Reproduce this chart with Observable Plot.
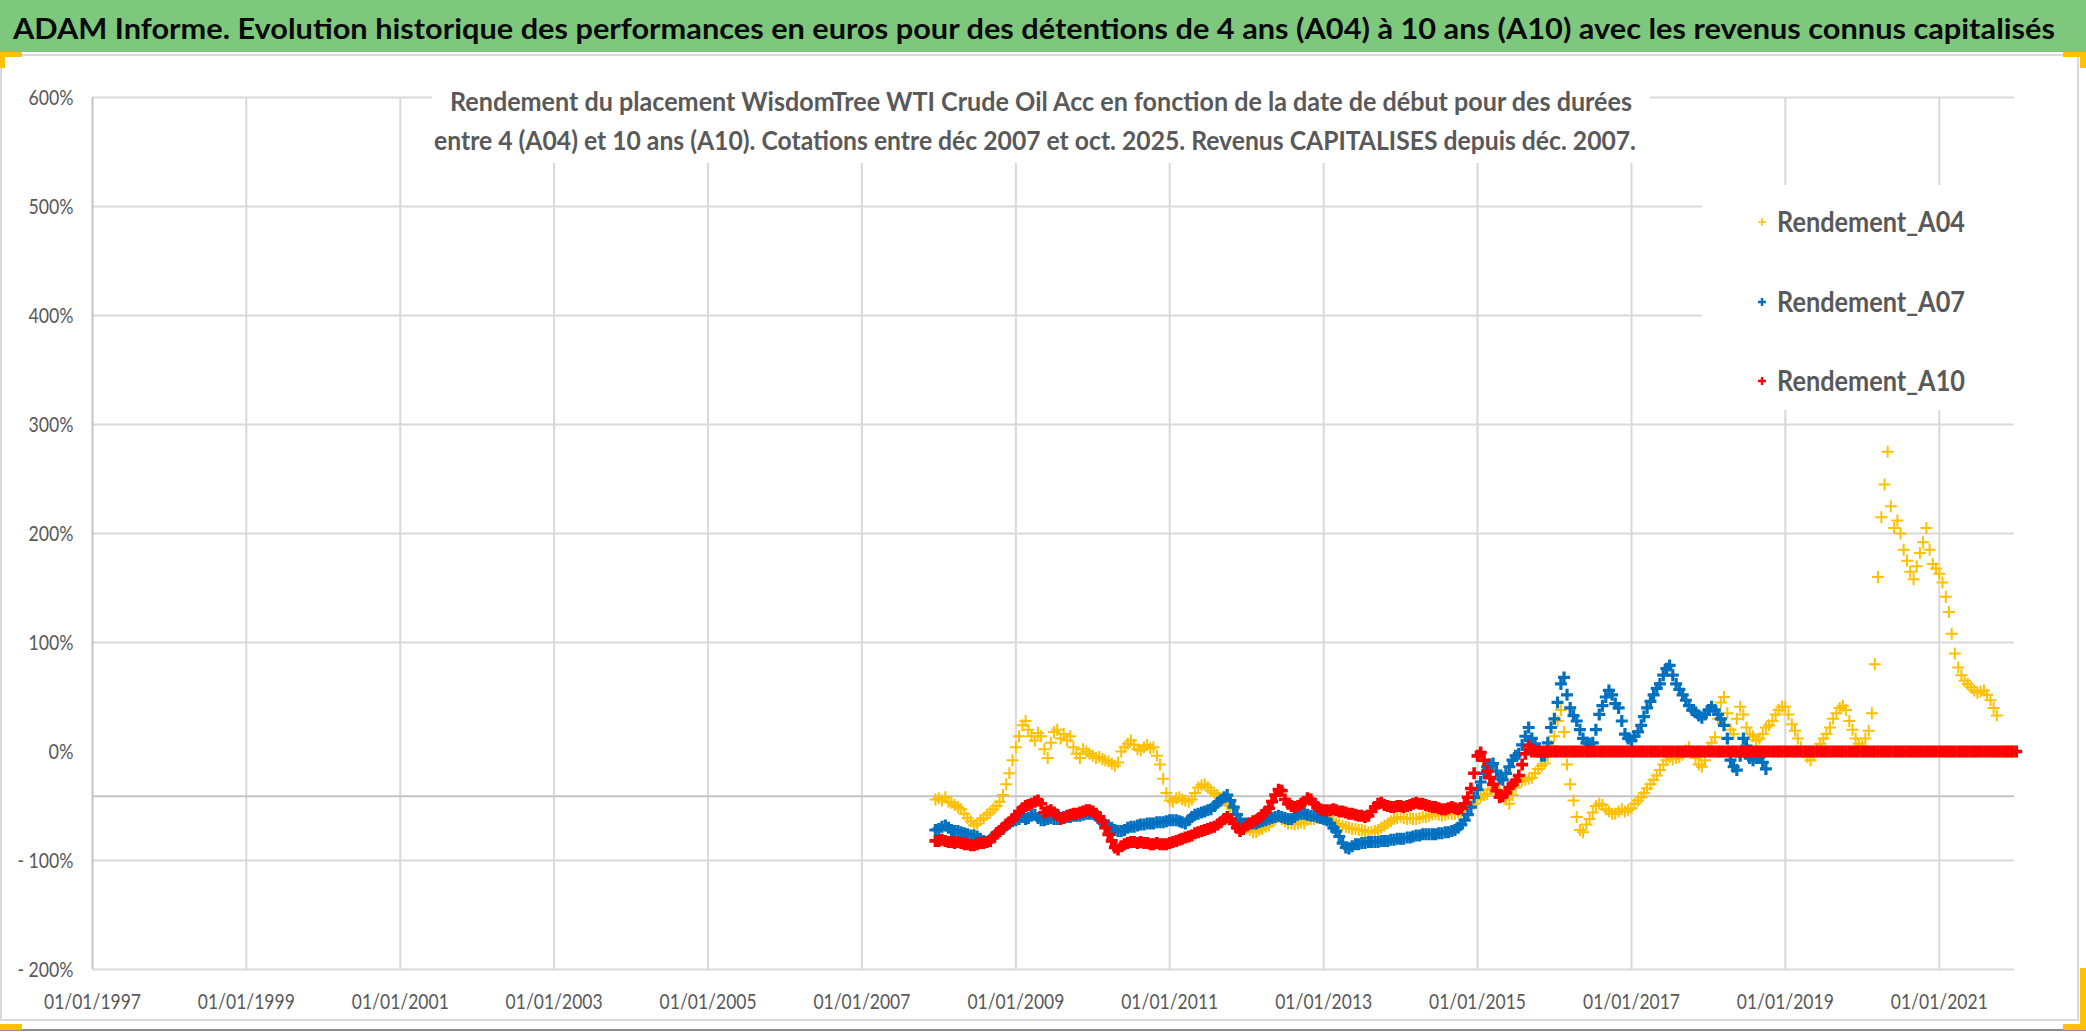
<!DOCTYPE html>
<html>
<head>
<meta charset="utf-8">
<script src="https://cdn.jsdelivr.net/npm/d3@7"></script>
<script src="https://cdn.jsdelivr.net/npm/@observablehq/plot@0.6"></script>
<style>
  html, body { margin: 0; padding: 0; background: #ffffff; }
  body { width: 2086px; height: 1032px; position: relative; overflow: hidden; font-family: Lato, "Open Sans", sans-serif; }
  #chart { position: absolute; left: 0; top: 0; }
  #overlay { position: absolute; left: 0; top: 0; pointer-events: none; }
</style>
</head>
<body>
<div id="chart"></div>
<svg id="overlay" width="2086" height="1032"></svg>
<script>
// ---------- text ----------
const titleText = "ADAM Informe. Evolution historique des performances en euros pour des détentions de 4 ans (A04) à 10 ans (A10) avec les revenus connus capitalisés";
const subtitleLines = [
  "Rendement du placement WisdomTree WTI Crude Oil Acc en fonction de la date de début pour des durées",
  "entre 4 (A04) et 10 ans (A10). Cotations entre déc 2007 et oct. 2025. Revenus CAPITALISES depuis déc. 2007."
];
const seriesNames = ["Rendement_A04", "Rendement_A07", "Rendement_A10"];
const seriesColors = ["#FFC000", "#0070C0", "#FF0000"];

// ---------- axes ----------
const yTicks = [-200, -100, 0, 100, 200, 300, 400, 500, 600];
const yGrid = [-200, -100, 100, 200, 300, 400, 500, 600];
const axisCross = -41;
const xTickYears = [1997, 1999, 2001, 2003, 2005, 2007, 2009, 2011, 2013, 2015, 2017, 2019, 2021];

// ---------- data: returns in %, one value per half month from 16/12/2007 ----------
const a04 = [
  -44,
  // 2008
  -43,-45,-42,-46,-47,-49,-51,-53,-57,-61,-64,-68,-66,-63,-61,-58,-56,-53,-50,-46,-40,-30,-20,-8,
  // 2009
  4,14,24,28,20,14,10,17,14,2,-6,8,18,20,12,16,10,14,4,-2,-6,2,0,-2,
  // 2010
  -4,-6,-5,-7,-8,-9,-11,-13,-10,0,4,7,10,6,2,1,4,6,3,4,-4,-12,-25,-38,
  // 2011
  -45,-46,-43,-42,-44,-45,-46,-44,-38,-33,-31,-30,-33,-36,-38,-40,-43,-45,-48,-50,-53,-57,-63,-68,
  // 2012
  -70,-72,-74,-74,-72,-71,-69,-68,-64,-62,-60,-62,-64,-66,-66,-67,-66,-65,-66,-63,-62,-62,-61,-60,
  // 2013
  -60,-61,-63,-64,-66,-67,-68,-69,-70,-71,-71,-72,-72,-73,-74,-74,-73,-72,-70,-68,-66,-64,-62,-61,
  // 2014
  -60,-61,-62,-61,-62,-62,-61,-60,-60,-59,-58,-57,-58,-59,-58,-57,-57,-57,-56,-55,-53,-51,-50,-48,
  // 2015
  -44,-42,-40,-39,-35,-33,-36,-36,-40,-44,-48,-40,-33,-28,-27,-26,-25,-24,-20,-16,-13,-11,-4,5,
  // 2016
  14,28,38,18,-12,-30,-45,-60,-72,-74,-67,-62,-56,-50,-48,-49,-53,-55,-57,-57,-55,-53,-55,-54,
  // 2017
  -52,-48,-45,-42,-38,-34,-30,-26,-22,-17,-12,-8,-5,-7,-6,-5,-3,1,4,0,-6,-12,-14,-8,
  // 2018
  2,8,13,30,45,50,35,20,16,30,41,34,22,16,14,10,12,16,22,24,28,34,38,41,
  // 2019
  41,34,25,19,12,4,0,-5,-8,-4,2,7,12,16,22,30,35,40,42,38,28,20,12,7,
  // 2020
  5,12,19,35,80,160,215,245,275,225,205,212,200,185,175,165,158,170,182,192,205,185,172,168,
  // 2021
  163,155,142,128,108,90,77,70,65,62,59,56,54,55,56,52,47,40,33,0,0,0,0,0,
  // 2022
  0
];

const a07 = [
  -72,
  // 2008
  -71,-69,-68,-70,-72,-73,-73,-74,-75,-76,-77,-77,-78,-80,-82,-83,-81,-78,-75,-73,-71,-68,-66,-64,
  // 2009
  -63,-62,-60,-62,-61,-59,-58,-61,-63,-63,-62,-61,-62,-62,-61,-60,-60,-60,-59,-59,-59,-58,-57,-57,
  // 2010
  -57,-59,-62,-65,-67,-68,-70,-72,-73,-73,-72,-70,-69,-69,-68,-67,-67,-66,-66,-66,-65,-65,-65,-64,
  // 2011
  -63,-63,-63,-64,-65,-66,-63,-60,-58,-57,-56,-55,-54,-53,-50,-47,-45,-42,-40,-45,-51,-58,-63,-66,
  // 2012
  -66,-66,-66,-66,-65,-64,-63,-62,-61,-60,-59,-60,-61,-62,-62,-60,-58,-57,-57,-58,-59,-59,-60,-61,
  // 2013
  -62,-63,-66,-70,-73,-78,-84,-88,-89,-87,-85,-85,-84,-84,-83,-83,-83,-83,-82,-82,-82,-81,-81,-80,
  // 2014
  -80,-80,-79,-79,-78,-77,-77,-76,-76,-76,-76,-76,-75,-75,-74,-74,-73,-72,-70,-67,-63,-58,-51,-42,
  // 2015
  -35,-28,-20,-14,-12,-11,-18,-25,-26,-20,-14,-8,-4,-2,6,14,22,12,7,2,-4,-4,8,22,
  // 2016
  30,45,62,68,52,40,33,28,20,12,8,7,8,20,34,42,50,56,52,44,40,28,16,12,
  // 2017
  10,14,18,24,32,40,46,52,58,62,70,76,79,70,62,57,52,47,42,38,36,33,31,34,
  // 2018
  38,41,38,34,30,24,12,-8,-14,-17,-4,12,5,-6,-8,-6,-5,-10,-16
];

const a10 = [
  -82,
  // 2008
  -82,-81,-82,-83,-83,-84,-83,-84,-85,-85,-86,-86,-85,-84,-84,-83,-82,-79,-75,-73,-70,-67,-65,-62,
  // 2009
  -59,-55,-52,-50,-49,-48,-46,-45,-48,-56,-55,-54,-56,-58,-62,-61,-59,-58,-57,-57,-56,-55,-54,-54,
  // 2010
  -55,-57,-60,-64,-70,-76,-82,-88,-90,-87,-85,-84,-83,-83,-84,-83,-84,-84,-85,-85,-84,-85,-85,-85,
  // 2011
  -84,-83,-82,-81,-80,-79,-78,-77,-75,-74,-73,-72,-71,-70,-69,-67,-65,-62,-60,-62,-66,-70,-73,-71,
  // 2012
  -68,-66,-64,-63,-61,-58,-55,-52,-46,-40,-35,-36,-44,-48,-50,-51,-50,-48,-46,-43,-44,-48,-51,-53,
  // 2013
  -54,-54,-54,-53,-54,-55,-55,-56,-57,-57,-58,-59,-59,-60,-59,-55,-51,-48,-47,-49,-50,-51,-51,-50,
  // 2014
  -50,-51,-50,-49,-48,-47,-48,-48,-49,-50,-51,-51,-52,-53,-53,-52,-51,-52,-53,-52,-48,-42,-34,-20,
  // 2015
  -4,-1,-8,-18,-24,-30,-36,-42,-41,-38,-33,-30,-27,-22,-12,-2,5,0,0,0,0,0,0,0,
  // 2016
  0,0,0,0,0,0,0,0,0,0,0,0,0,0,0,0,0,0,0,0,0,0,0,0,
  // 2017
  0,0,0,0,0,0,0,0,0,0,0,0,0,0,0,0,0,0,0,0,0,0,0,0,
  // 2018
  0,0,0,0,0,0,0,0,0,0,0,0,0,0,0,0,0,0,0,0,0,0,0,0,
  // 2019
  0,0,0,0,0,0,0,0,0,0,0,0,0,0,0,0,0,0,0,0,0,0,0,0,
  // 2020
  0,0,0,0,0,0,0,0,0,0,0,0,0,0,0,0,0,0,0,0,0,0,0,0,
  // 2021
  0,0,0,0,0,0,0,0,0,0,0,0,0,0,0,0,0,0,0,0,0,0,0,0,
  // 2022
  0
];

// ---------- build tables ----------
// date of sample i: 16/12/2007, 01/01/2008, 16/01/2008, 01/02/2008, ...
const sampleDate = i => new Date(Date.UTC(2007, 11 + Math.floor((i + 1) / 2), i % 2 === 1 ? 1 : 16));
const toRows = arr => arr.map((v, i) => ({ date: sampleDate(i), v }));
const rows = [toRows(a04), toRows(a07), toRows(a10)];
const xTicks = xTickYears.map(y => new Date(Date.UTC(y, 0, 1)));

// thin "+" marker like Excel
const plusSymbol = {
  draw(ctx, size) {
    const h = Math.sqrt(size / Math.PI);
    ctx.moveTo(-h, 0); ctx.lineTo(h, 0);
    ctx.moveTo(0, -h); ctx.lineTo(0, h);
  }
};
const strokeWidths = [2, 3.2, 3.6];
const radii = [6, 6, 6];

const yFmt = v => v < 0 ? `- ${-v}%` : `${v}%`;

const chart = Plot.plot({
  width: 2086,
  height: 1032,
  marginLeft: 92,
  marginRight: 72,
  marginTop: 97,
  marginBottom: 63,
  style: { fontFamily: "Lato, sans-serif", fontSize: "22px", color: "#595959", background: "transparent", overflow: "visible" },
  x: { type: "utc", domain: [new Date(Date.UTC(1997, 0, 1)), new Date(Date.UTC(2021, 11, 24))] },
  y: { domain: [-200, 600] },
  marks: [
    Plot.ruleY(yGrid, { stroke: "#d9d9d9", strokeWidth: 2 }),
    Plot.ruleX(xTicks.slice(1), { stroke: "#d9d9d9", strokeWidth: 2 }),
    Plot.ruleX([xTicks[0]], { stroke: "#c4c4c4", strokeWidth: 2 }),
    Plot.ruleY([axisCross], { stroke: "#c4c4c4", strokeWidth: 2 }),
    ...rows.map((r, k) => Plot.dot(r, {
      x: "date", y: "v", symbol: plusSymbol, r: radii[k],
      fill: "none", stroke: seriesColors[k], strokeWidth: strokeWidths[k]
    })),
    Plot.axisY({ ticks: yTicks, tickFormat: yFmt, tickSize: 0, tickPadding: 19, label: null, fontSize: 22 }),
    Plot.axisX({ ticks: xTicks, tickFormat: d3.utcFormat("%d/%m/%Y"), tickSize: 0, tickPadding: 24, label: null, fontSize: 22 })
  ]
});
document.getElementById("chart").appendChild(chart);

// tick label widths like the original (narrow Calibri)
chart.querySelectorAll('[aria-label="x-axis tick label"] text').forEach(t => {
  t.setAttribute("textLength", 97); t.setAttribute("lengthAdjust", "spacingAndGlyphs");
});
chart.querySelectorAll('[aria-label="y-axis tick label"] text').forEach(t => {
  const s = t.textContent;
  const w = s.length <= 2 ? 25 : (s.startsWith("-") ? 56 : 45);
  t.setAttribute("textLength", w); t.setAttribute("lengthAdjust", "spacingAndGlyphs");
});

// ---------- overlay: title bar, frame, subtitle, legend ----------
const ov = d3.select("#overlay");
// chart frame
ov.append("rect").attr("x", 1).attr("y", 55).attr("width", 2077).attr("height", 965)
  .attr("fill", "none").attr("stroke", "#d9d9d9").attr("stroke-width", 2);
ov.append("line").attr("x1", 0).attr("x2", 2086).attr("y1", 1030).attr("y2", 1030)
  .attr("stroke", "#8c8c8c").attr("stroke-width", 2);
// title bar
ov.append("rect").attr("x", 0).attr("y", 0).attr("width", 2086).attr("height", 52).attr("fill", "#7ec87e");
ov.append("text").attr("x", 13).attr("y", 39).text(titleText)
  .attr("font-family", "Lato, sans-serif").attr("font-weight", 700).attr("font-size", 29)
  .attr("fill", "#0a0a0a").attr("textLength", 2042).attr("lengthAdjust", "spacingAndGlyphs");
// selection handles
const handles = [[0,52,22,5],[0,52,5,16],[2063,52,23,5],[2080,52,6,16],[0,1024,22,6],[2063,1024,23,6],[2080,968,6,62]];
handles.forEach(([x,y,w,h]) => ov.append("rect").attr("x", x).attr("y", y).attr("width", w).attr("height", h).attr("fill", "#FFC000"));

// subtitle box
ov.append("rect").attr("x", 432).attr("y", 78).attr("width", 1218).attr("height", 85).attr("fill", "#ffffff");
const subPos = [[450, 111, 1182], [434, 150, 1202]];
subtitleLines.forEach((s, i) => {
  ov.append("text").attr("x", subPos[i][0]).attr("y", subPos[i][1]).text(s)
    .attr("font-family", "Lato, sans-serif").attr("font-weight", 700).attr("font-size", 26)
    .attr("fill", "#595959").attr("textLength", subPos[i][2]).attr("lengthAdjust", "spacingAndGlyphs");
});

// legend box
ov.append("rect").attr("x", 1702).attr("y", 185).attr("width", 313).attr("height", 225).attr("fill", "#ffffff");
const legY = [232, 312, 391];
seriesNames.forEach((name, k) => {
  const cy = legY[k] - 10;
  ov.append("path").attr("d", `M1758,${cy}h8M1762,${cy - 4}v8`)
    .attr("stroke", seriesColors[k]).attr("stroke-width", k === 0 ? 1.5 : 2.4).attr("fill", "none");
  ov.append("text").attr("x", 1777).attr("y", legY[k]).text(name)
    .attr("font-family", "Lato, sans-serif").attr("font-weight", 700).attr("font-size", 28)
    .attr("fill", "#595959").attr("textLength", 188).attr("lengthAdjust", "spacingAndGlyphs");
});
</script>
</body>
</html>
